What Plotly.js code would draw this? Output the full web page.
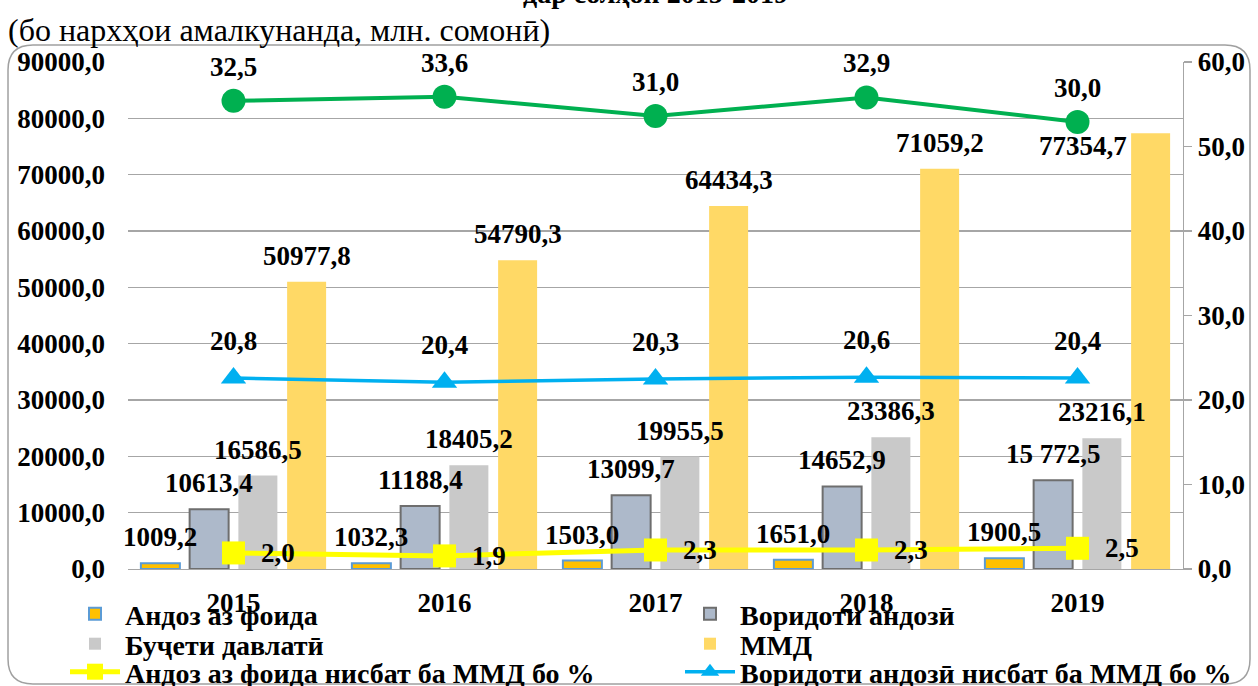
<!DOCTYPE html>
<html><head><meta charset="utf-8">
<script src="https://cdn.plot.ly/plotly-3.0.1.min.js"></script>
<style>html,body{margin:0;padding:0;background:#fff}#chart{width:1258px;height:686px}</style>
</head><body><div id="chart"></div>
<script>
// ---- data ----
const years = ['2015', '2016', '2017', '2018', '2019'];
const profitTax = [1009.2, 1032.3, 1503.0, 1651.0, 1900.5];
const taxRevenue = [10613.4, 11188.4, 13099.7, 14652.9, 15772.5];
const stateBudget = [16586.5, 18405.2, 19955.5, 23386.3, 23216.1];
const gdp = [50977.8, 54790.3, 64434.3, 71059.2, 77354.7];
const taxRevenueLabels = ['10613,4', '11188,4', '13099,7', '14652,9', '15 772,5'];
const budgetRatioPos = [55.4, 55.9, 53.6, 55.8, 52.9];
const budgetRatioLabels = ['32,5', '33,6', '31,0', '32,9', '30,0'];
const revenueRatioPos = [22.6, 22.1, 22.5, 22.7, 22.6];
const revenueRatioLabels = ['20,8', '20,4', '20,3', '20,6', '20,4'];
const profitRatioPos = [1.9, 1.55, 2.25, 2.25, 2.45];
const profitRatioLabels = ['2,0', '1,9', '2,3', '2,3', '2,5'];
const seriesNames = ['Андоз аз фоида', 'Воридоти андозӣ', 'Буҷети давлатӣ', 'ММД',
  'Андоз аз фоида нисбат ба ММД бо %', 'Воридоти андозӣ нисбат ба ММД бо %'];
const titleText = 'дар солҳои 2015-2019';
const subtitleText = '(бо нархҳои амалкунанда, млн. сомонӣ)';

// ---- layout constants ----
const W = 1258, H = 686;
const M = {l: 128, r: 75, t: 62, b: 117, autoexpand: false};
const PW = W - M.l - M.r, PH = H - M.t - M.b;
const FONT = '"Liberation Serif", "Times New Roman", serif';
const FS = 27;
const BARGAP = 0.076, BARGROUPGAP = 0.2;
const slot = PW / years.length * (1 - BARGAP) / 4;
const px = x => (x - M.l) / PW;
const py = y => (H - M.b - y) / PH;
const fmt = v => v.toFixed(1).replace('.', ',');

const barStyles = [
  {color: '#FFC000', line: {color: '#5B9BD5', width: 2}},
  {color: '#ADB9CA', line: {color: '#6E6E6E', width: 2}},
  {color: '#C9C9C9', line: {width: 0}},
  {color: '#FFD966', line: {width: 0}}
];
const barData = [profitTax, taxRevenue, stateBudget, gdp];
const legendIds = ['legend', 'legend2', 'legend3', 'legend4', 'legend5', 'legend6'];
// legend slots: [text-left x px, row centre y px]
const legendSlots = [[125, 615], [740, 615], [125, 645], [740, 645], [125, 673], [740, 673]];

const traces = barData.map((vals, s) => ({
  type: 'bar', x: years, y: vals, name: seriesNames[s], marker: barStyles[s],
  yaxis: 'y', legend: legendIds[s], hoverinfo: 'skip'
}));
traces.push({
  type: 'scatter', mode: 'lines+markers', x: years, y: budgetRatioPos, yaxis: 'y2',
  line: {color: '#00B050', width: 4}, marker: {symbol: 'circle', size: 24, color: '#00B050'},
  showlegend: false, hoverinfo: 'skip'
});
traces.push({
  type: 'scatter', mode: 'lines+markers', x: years, y: profitRatioPos, yaxis: 'y2',
  name: seriesNames[4], legend: legendIds[4],
  line: {color: '#FFFF00', width: 5}, marker: {symbol: 'square', size: 23, color: '#FFFF00'},
  hoverinfo: 'skip'
});
traces.push({
  type: 'scatter', mode: 'lines+markers', x: years, y: revenueRatioPos, yaxis: 'y2',
  name: seriesNames[5], legend: legendIds[5],
  line: {color: '#00B0F0', width: 3.5}, marker: {symbol: 'triangle-up', size: 22, color: '#00B0F0'},
  hoverinfo: 'skip'
});

const labelFont = {family: FONT, size: FS, color: '#000'};
const annotations = [];
barData.forEach((vals, s) => {
  vals.forEach((v, i) => {
    let text = s === 1 ? taxRevenueLabels[i] : fmt(v);
    let xs = (s - 1.5) * slot, ys = 26;
    if (s === 3 && i === years.length - 1) { xs -= 68; ys = -13; }
    annotations.push({x: i, y: v, xref: 'x', yref: 'y', text: '<b>' + text + '</b>',
      showarrow: false, xshift: xs, yshift: ys, yanchor: 'middle', font: labelFont});
  });
});
budgetRatioPos.forEach((v, i) => annotations.push({x: i, y: v, xref: 'x', yref: 'y2',
  text: '<b>' + budgetRatioLabels[i] + '</b>', showarrow: false, yshift: 34, yanchor: 'middle', font: labelFont}));
revenueRatioPos.forEach((v, i) => annotations.push({x: i, y: v, xref: 'x', yref: 'y2',
  text: '<b>' + revenueRatioLabels[i] + '</b>', showarrow: false, yshift: 37, yanchor: 'middle', font: labelFont}));
profitRatioPos.forEach((v, i) => annotations.push({x: i, y: v, xref: 'x', yref: 'y2',
  text: '<b>' + profitRatioLabels[i] + '</b>', showarrow: false, xshift: 25, xanchor: 'left', yanchor: 'middle', font: labelFont}));
annotations.push({xref: 'paper', yref: 'paper', x: px(655), y: py(11), xanchor: 'center', yanchor: 'bottom',
  text: '<b>' + titleText + '</b>', showarrow: false, font: {family: FONT, size: 28, color: '#000'}});
annotations.push({xref: 'paper', yref: 'paper', x: px(6), y: py(30), xanchor: 'left', yanchor: 'middle',
  text: subtitleText, showarrow: false, font: {family: FONT, size: 32, color: '#000'}});

// rounded frame
const L = 8, T = 45, R = 1250, B = 684, r = 25;
const P = (x, y) => px(x).toFixed(5) + ',' + py(y).toFixed(5);
const framePath = 'M' + P(L + r, T) + ' L' + P(R - r, T) + ' Q' + P(R, T) + ' ' + P(R, T + r) +
  ' L' + P(R, B - r) + ' Q' + P(R, B) + ' ' + P(R - r, B) + ' L' + P(L + r, B) +
  ' Q' + P(L, B) + ' ' + P(L, B - r) + ' L' + P(L, T + r) + ' Q' + P(L, T) + ' ' + P(L + r, T) + ' Z';

const ITEMW = 50, TEXT_OFF = ITEMW + 10, HALF_ITEM = 24;
const layout = {
  width: W, height: H, margin: M, paper_bgcolor: '#fff', plot_bgcolor: 'rgba(0,0,0,0)',
  separators: ', ', barmode: 'group', bargap: BARGAP, bargroupgap: BARGROUPGAP,
  font: {family: FONT, color: '#000'},
  xaxis: {type: 'category', range: [-0.5, years.length - 0.5], autorange: false, showgrid: false,
    showline: true, linecolor: '#A6A6A6', linewidth: 1.3,
    ticks: '', ticklabelstandoff: 9, tickfont: {family: FONT, size: FS, color: '#000', weight: 'bold'}},
  yaxis: {range: [0, 90000], dtick: 10000, tickformat: '.1f', showgrid: true, gridcolor: '#A6A6A6',
    gridwidth: 1.3, zeroline: false, showline: false, ticks: '', ticklabelstandoff: 22,
    tickfont: {family: FONT, size: FS, color: '#000', weight: 'bold'}},
  yaxis2: {range: [0, 60], dtick: 10, tickformat: '.1f', overlaying: 'y', side: 'right', showgrid: false,
    zeroline: false, showline: true, linecolor: '#A6A6A6', linewidth: 1.3, ticks: 'outside', ticklen: 8,
    tickcolor: '#A6A6A6', tickwidth: 1.3, tickfont: {family: FONT, size: FS, color: '#000', weight: 'bold'}},
  shapes: [{type: 'path', xref: 'paper', yref: 'paper', path: framePath, layer: 'below',
    line: {color: '#A0A0A0', width: 1.5}}],
  annotations: annotations
};
legendIds.forEach((id, k) => {
  layout[id] = {orientation: 'v', xanchor: 'left', yanchor: 'bottom',
    x: px(legendSlots[k][0] - TEXT_OFF), y: py(legendSlots[k][1] + HALF_ITEM),
    bgcolor: 'rgba(0,0,0,0)', itemwidth: ITEMW,
    font: {family: FONT, size: 28, color: '#000', weight: 'bold'}};
});
Plotly.newPlot('chart', traces, layout, {displayModeBar: false, staticPlot: true});
</script></body></html>
